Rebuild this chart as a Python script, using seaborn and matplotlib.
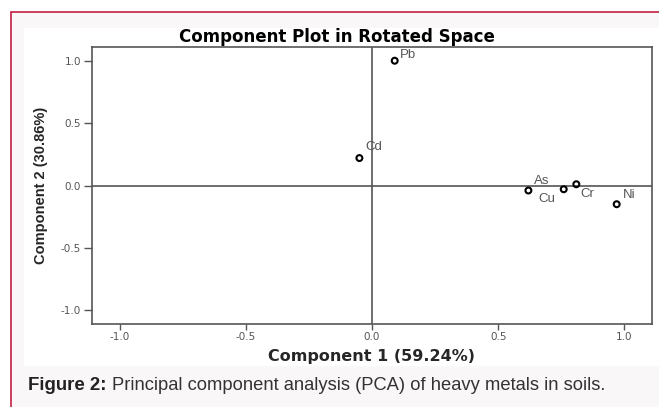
import pandas as pd
import matplotlib
matplotlib.use("Agg")
import matplotlib.pyplot as plt
import matplotlib.patches as mpatches
import seaborn as sns

# Loadings
metals = ["Pb", "Cd", "As", "Cu", "Cr", "Ni"]
comp1 = [0.09, -0.05, 0.62, 0.76, 0.81, 0.97]
comp2 = [1.00, 0.22, -0.04, -0.03, 0.01, -0.15]
ticks = [-1.0, -0.5, 0.0, 0.5, 1.0]
tick_labels = ["-1.0", "-0.5", "0.0", "0.5", "1.0"]

df = pd.DataFrame({"Metal": metals, "C1": comp1, "C2": comp2})

sns.set_style("white")
plt.rcParams["font.family"] = ["Liberation Sans", "DejaVu Sans"]

W, H = 659, 407
fig = plt.figure(figsize=(W / 100, H / 100), dpi=100, facecolor="white")

# page background: red frame, light panel, white chart area
def px_rect(x0, y0, x1, y1, **kw):
    fig.patches.append(mpatches.Rectangle((x0 / W, 1 - y1 / H), (x1 - x0) / W, (y1 - y0) / H,
                                          transform=fig.transFigure, figure=fig, zorder=-5, **kw))

px_rect(11, 12, W + 5, H + 5, facecolor="#faf7f8", edgecolor="#c41e45", linewidth=1.2)
px_rect(24, 28, W + 5, 366, facecolor="white", edgecolor="none")

ax = fig.add_axes([92 / W, 1 - 324 / H, 560 / W, 277 / H])
ax.set_facecolor("white")

ax.axhline(0, color="#555555", linewidth=1.2, zorder=1)
ax.axvline(0, color="#555555", linewidth=1.2, zorder=1)

sns.scatterplot(data=df, x="C1", y="C2", ax=ax, marker="o", s=18,
                facecolor="none", edgecolor="black", linewidth=1.5, zorder=3)

# label offsets (pixels), like the SPSS placement
offsets = {"Pb": (5, 6), "Cd": (6, 11), "As": (6, 9), "Cu": (-25, -10),
           "Cr": (4, -10), "Ni": (6, 9)}
for m, x, y in zip(metals, comp1, comp2):
    dx, dy = offsets[m]
    ax.annotate(m, (x, y), xytext=(dx, dy), textcoords="offset pixels",
                fontsize=9.5, color="#555555", ha="left", va="center")

ax.set_xlim(-1.11, 1.11)
ax.set_ylim(-1.11, 1.11)
ax.set_xticks(ticks)
ax.set_xticklabels(tick_labels)
ax.set_yticks(ticks)
ax.set_yticklabels(tick_labels)
ax.tick_params(axis="both", direction="out", bottom=True, left=True, width=1,
               color="#555555", labelcolor="#555555", labelsize=7.5, pad=2)
ax.tick_params(axis="x", length=4)
ax.tick_params(axis="y", length=6)
for lbl in ax.get_xticklabels() + ax.get_yticklabels():
    lbl.set_family(["DejaVu Sans"])
for sp in ax.spines.values():
    sp.set_color("#555555")
    sp.set_linewidth(1.2)

ax.set_xlabel("Component 1 (59.24%)", fontsize=11.5, fontweight="bold", labelpad=5,
              family=["DejaVu Sans"])
ax.set_ylabel("Component 2 (30.86%)", fontsize=10.5, fontweight="bold", labelpad=9,
              family=["Liberation Sans Narrow", "Liberation Sans", "DejaVu Sans"])

fig.text(337 / W, 1 - 37 / H, "Component Plot in Rotated Space", fontsize=12,
         fontweight="bold", ha="center", va="center", family=["DejaVu Sans"],
         color="black")

# caption
cap = fig.text(28 / W, 1 - 386 / H, "Figure 2:", fontsize=13.4, fontweight="bold",
               ha="left", va="center", color="#222222")
fig.canvas.draw()
bb = cap.get_window_extent()
fig.text((bb.x1 + 5) / W, 1 - 386 / H,
         "Principal component analysis (PCA) of heavy metals in soils.",
         fontsize=13.2, ha="left", va="center", color="#333333")

fig.savefig("out.png", dpi=100)
